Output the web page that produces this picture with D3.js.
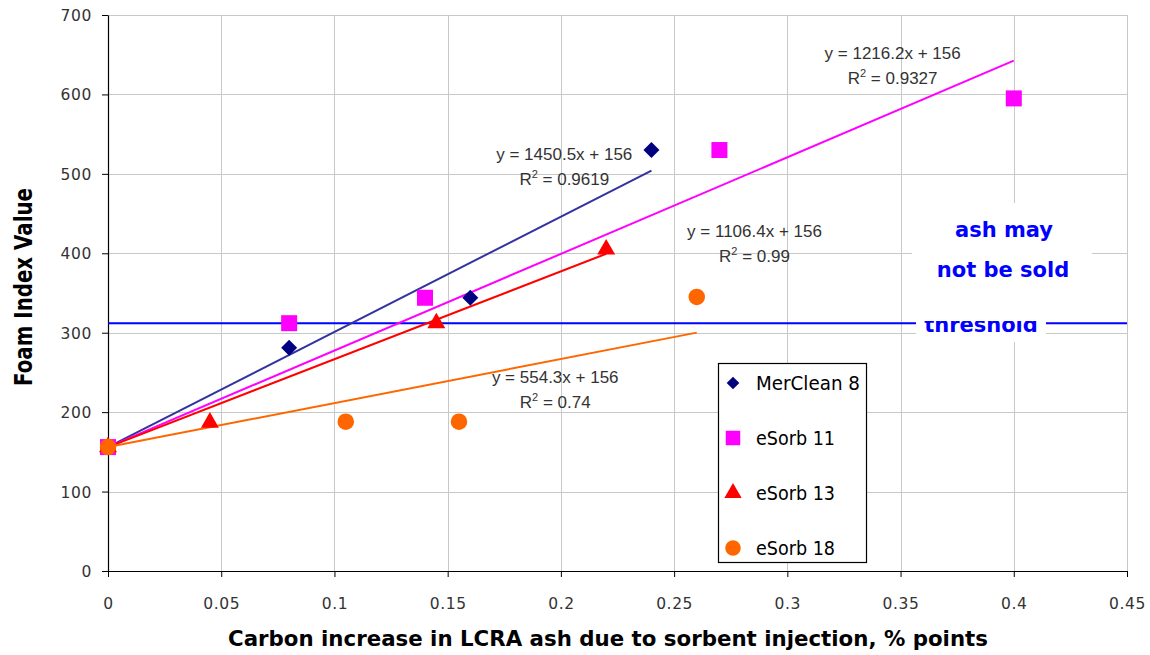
<!DOCTYPE html>
<html><head><meta charset="utf-8">
<script src="https://cdn.jsdelivr.net/npm/d3@7"></script>
<style>body{margin:0;background:#fff}svg{display:block}</style>
</head><body>
<svg id="chart" width="1150" height="655"></svg>
<script>
// ---- data ----
const xTickValues = [0, 0.05, 0.1, 0.15, 0.2, 0.25, 0.3, 0.35, 0.4, 0.45];
const xTickLabels = ["0", "0.05", "0.1", "0.15", "0.2", "0.25", "0.3", "0.35", "0.4", "0.45"];
const yTickValues = [0, 100, 200, 300, 400, 500, 600, 700];
const seriesNames = ["MerClean 8", "eSorb 11", "eSorb 13", "eSorb 18"];
const merX = [0, 0.08, 0.16, 0.24];
const merY = [156, 281, 344, 530];
const s11X = [0, 0.08, 0.14, 0.27, 0.40];
const s11Y = [156, 312, 344, 530, 595];
const s13X = [0, 0.045, 0.145, 0.22];
const s13Y = [156, 187, 312, 405];
const s18X = [0, 0.105, 0.155, 0.26];
const s18Y = [156, 188, 188, 345];
const slopes = [1450.5, 1216.2, 1106.4, 554.3];
const intercept = 156;
const r2Labels = ["0.9619", "0.9327", "0.99", "0.74"];
const eqAnchorX = [0.2015, 0.3465, 0.2855, 0.1975];   // label centres in data units
const eqAnchorY = [518, 645, 420, 237];
const thresholdValue = 312;

const svg = d3.select("#chart");
const x = d3.scaleLinear().domain([0, 0.45]).range([108, 1127]);
const y = d3.scaleLinear().domain([0, 700]).range([571, 15]);

const colors = ["#000080", "#ff00ff", "#ff0000", "#ff6600"];
const lineColors = ["#3333a0", "#ff00ff", "#ff0000", "#ff6600"];
const sx = [merX, s11X, s13X, s18X], sy = [merY, s11Y, s13Y, s18Y];

// gridlines
const grid = svg.append("g").attr("stroke", "#c8c8c8").attr("stroke-width", 1);
grid.selectAll("line.v").data(xTickValues.slice(1)).join("line")
  .attr("x1", d => Math.round(x(d)) + 0.5).attr("x2", d => Math.round(x(d)) + 0.5)
  .attr("y1", y(700)).attr("y2", y(0));
grid.selectAll("line.h").data(yTickValues.slice(1)).join("line")
  .attr("y1", d => Math.round(y(d)) + 0.5).attr("y2", d => Math.round(y(d)) + 0.5)
  .attr("x1", x(0)).attr("x2", x(0.45));

// axes
const tickFont = "'DejaVu Sans', sans-serif";
const xAxis = svg.append("g").attr("transform", `translate(0,${y(0)})`)
  .call(d3.axisBottom(x).tickValues(xTickValues).tickFormat((d, i) => xTickLabels[i]).tickSize(6).tickSizeOuter(0).tickPadding(21));
const yAxis = svg.append("g").attr("transform", `translate(${x(0)},0)`)
  .call(d3.axisLeft(y).tickValues(yTickValues).tickSize(6).tickSizeOuter(0).tickPadding(10));
[xAxis, yAxis].forEach(a => {
  a.select(".domain").attr("stroke", "#000").attr("stroke-width", 1.2);
  a.selectAll(".tick line").attr("stroke", "#000");
  a.selectAll(".tick text").attr("font-family", tickFont).attr("font-size", 15.5)
    .attr("fill", "#333").attr("letter-spacing", 0.6);
});
yAxis.selectAll(".tick text").attr("dy", "0.35em");

// threshold line
svg.append("line").attr("x1", x(0)).attr("x2", x(0.45))
  .attr("y1", y(thresholdValue)).attr("y2", y(thresholdValue))
  .attr("stroke", "#0000ff").attr("stroke-width", 2);

// trendlines
sx.forEach((xs, i) => {
  const xEnd = d3.max(xs);
  svg.append("line")
    .attr("x1", x(0)).attr("y1", y(intercept))
    .attr("x2", x(xEnd)).attr("y2", y(slopes[i] * xEnd + intercept))
    .attr("stroke", lineColors[i]).attr("stroke-width", 2);
});

// markers
const sym = [
  d3.symbol().type(d3.symbolSquare).size(128),
  d3.symbol().type(d3.symbolSquare).size(256),
  d3.symbol().type(d3.symbolTriangle).size(140),
  d3.symbol().type(d3.symbolCircle).size(215)
];
const rot = [45, 0, 0, 0];
sx.forEach((xs, i) => {
  svg.append("g").selectAll("path").data(xs.map((v, j) => [v, sy[i][j]])).join("path")
    .attr("d", sym[i]())
    .attr("transform", d => `translate(${x(d[0])},${y(d[1])}) rotate(${rot[i]})`)
    .attr("fill", colors[i]);
});

// equation labels
const eqFont = "'Liberation Sans', Arial, sans-serif";
slopes.forEach((s, i) => {
  const cx = x(eqAnchorX[i]), cy = y(eqAnchorY[i]);
  const g = svg.append("g").attr("font-family", eqFont).attr("font-size", 17).attr("fill", "#333").attr("text-anchor", "middle");
  g.append("text").attr("x", cx).attr("y", cy).text(`y = ${s}x + ${intercept}`);
  const t = g.append("text").attr("x", cx).attr("y", cy + 25);
  t.append("tspan").text("R");
  t.append("tspan").attr("dy", -7).attr("font-size", 11).text("2");
  t.append("tspan").attr("dy", 7).text(` = ${r2Labels[i]}`);
});

// threshold label (partially covered)
svg.append("rect").attr("x", 916).attr("y", 308).attr("width", 130).attr("height", 34).attr("fill", "#fff");
svg.append("text").attr("x", 981).attr("y", 332).attr("text-anchor", "middle")
  .attr("font-family", "'DejaVu Sans', sans-serif").attr("font-weight", "bold").attr("font-size", 21)
  .attr("fill", "#0000ff").text("threshold");
// "ash may not be sold" box
svg.append("rect").attr("x", 912).attr("y", 203).attr("width", 180).attr("height", 118).attr("fill", "#fff");
const ash = svg.append("text").attr("text-anchor", "middle")
  .attr("font-family", "'DejaVu Sans', sans-serif").attr("font-weight", "bold").attr("font-size", 21)
  .attr("fill", "#0000ff");
ash.append("tspan").attr("x", 1004).attr("y", 237).text("ash may");
ash.append("tspan").attr("x", 1003).attr("y", 277).text("not be sold");

// legend
const lg = svg.append("g");
lg.append("rect").attr("x", 718.5).attr("y", 363.5).attr("width", 148).attr("height", 199)
  .attr("fill", "#fff").attr("stroke", "#000").attr("stroke-width", 1.2);
const lsym = [
  d3.symbol().type(d3.symbolSquare).size(80),
  d3.symbol().type(d3.symbolSquare).size(210),
  d3.symbol().type(d3.symbolTriangle).size(130),
  d3.symbol().type(d3.symbolCircle).size(190)
];
seriesNames.forEach((n, i) => {
  const cy = 383 + i * 55;
  lg.append("path").attr("d", lsym[i]()).attr("transform", `translate(733,${cy}) rotate(${rot[i]})`).attr("fill", colors[i]);
  lg.append("text").attr("x", 756).attr("y", cy).attr("dy", "0.36em")
    .attr("font-family", "'DejaVu Sans', sans-serif").attr("font-size", 20).attr("fill", "#000")
    .attr("textLength", n.length > 8 ? 104 : 79).attr("lengthAdjust", "spacingAndGlyphs").text(n);
});

// axis titles
const titleFont = "'DejaVu Sans', sans-serif";
svg.append("text").attr("x", 608).attr("y", 646).attr("text-anchor", "middle")
  .attr("font-family", titleFont).attr("font-weight", "bold").attr("font-size", 22)
  .attr("textLength", 760).attr("lengthAdjust", "spacingAndGlyphs")
  .text("Carbon increase in LCRA ash due to sorbent injection, % points");
svg.append("text").attr("transform", "translate(32,287) rotate(-90)").attr("text-anchor", "middle")
  .attr("font-family", titleFont).attr("font-weight", "bold").attr("font-size", 24)
  .attr("textLength", 198).attr("lengthAdjust", "spacingAndGlyphs")
  .text("Foam Index Value");
</script>
</body></html>
